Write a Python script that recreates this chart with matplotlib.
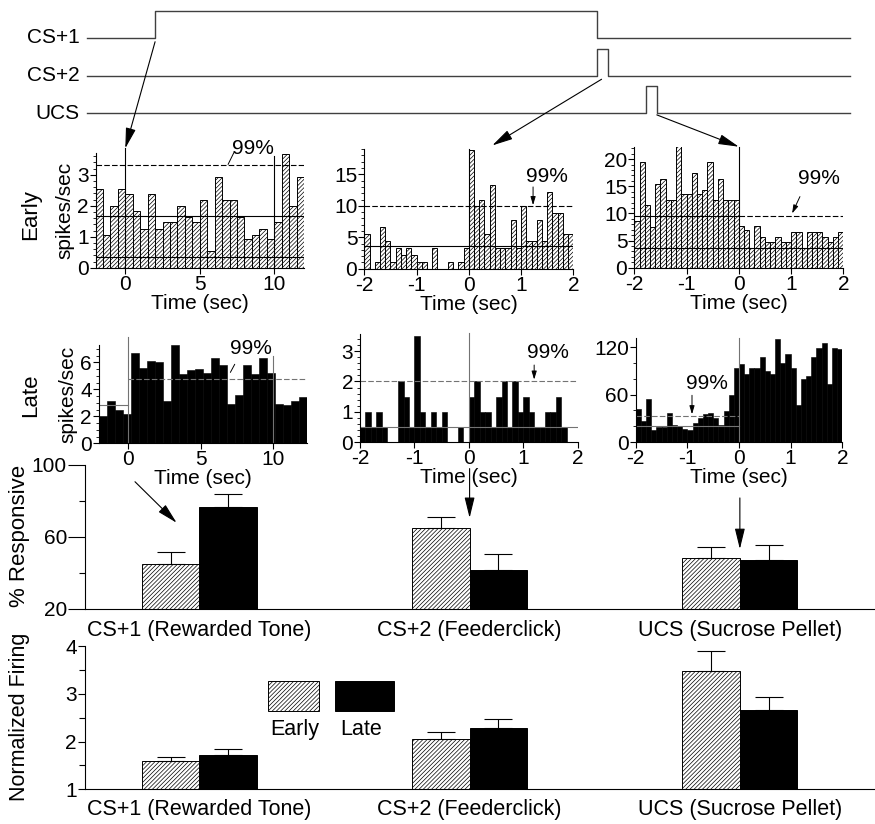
import matplotlib.pyplot as plt
import numpy as np
from matplotlib.patches import ConnectionPatch, Rectangle
from matplotlib.ticker import MultipleLocator, FixedLocator

plt.rcParams['font.family'] = ['Liberation Sans', 'DejaVu Sans']
plt.rcParams['hatch.linewidth'] = 0.5
plt.rcParams['axes.linewidth'] = 0.8
plt.rcParams['axes.unicode_minus'] = False

W, H = 875, 824

# stimulus timeline (sec, relative to CS+1 onset)
events = ['CS+1', 'CS+2', 'UCS']
onsets = [0.0, 10.0, 11.1]
offsets = [10.0, 10.25, 11.35]

# peri-event histograms (spikes/sec)
early_cs1 = [2.55, 1.07, 2.0, 2.55, 2.39, 1.82, 1.26, 2.39, 1.26, 1.46, 1.46, 2.0, 1.64, 1.46,
             2.2, 0.54, 2.93, 2.2, 2.2, 1.64, 0.91, 1.07, 1.26, 0.91, 1.46, 3.68, 2.0, 2.93]
early_cs2 = [5.5, 0, 1.1, 6.6, 4.4, 1.1, 3.3, 2.2, 3.3, 2.2, 1.1, 1.1, 0, 3.3, 0, 0, 1.1, 0, 1.1, 3.3,
             18.9, 10.0, 11.0, 5.5, 13.3, 3.3, 3.3, 3.3, 7.7, 3.3, 10.0, 4.4, 4.4, 7.7, 4.4, 12.2,
             8.8, 8.8, 5.5, 5.5]
early_ucs = [8.6, 19.4, 11.5, 7.5, 15.5, 16.4, 12.5, 12.5, 22.4, 13.6, 13.6, 17.5, 13.6, 14.4, 19.4,
             12.5, 16.4, 12.5, 12.5, 12.5, 7.7, 6.9, 3.7, 7.7, 5.6, 4.7, 4.7, 5.6, 4.7, 4.7, 6.6, 6.6,
             3.7, 6.6, 6.6, 6.6, 5.6, 4.7, 5.6, 6.6]
late_cs1 = [2.0, 3.1, 2.5, 2.2, 6.7, 5.6, 6.1, 6.0, 3.1, 7.3, 5.1, 5.4, 5.5, 5.2, 6.3, 5.8, 2.9,
            3.6, 5.8, 5.1, 6.3, 5.2, 2.9, 2.8, 3.1, 3.4]
late_cs2 = [0.5, 1.0, 0.5, 1.0, 0.5, 0, 0, 2.0, 1.5, 0.5, 3.5, 1.0, 0.5, 1.0, 0.5, 1.0, 0, 0, 0.5, 0,
            1.5, 2.0, 1.0, 1.0, 0.5, 1.5, 2.0, 0.5, 2.0, 1.0, 1.5, 1.0, 0.5, 0.5, 1.0, 1.0, 1.5, 0.5,
            0, 0]
late_ucs = [42, 27, 54, 15, 19, 19, 37, 22, 20, 16, 15, 24, 30, 36, 37, 30, 21, 39, 60, 94, 99, 86,
            94, 94, 107, 90, 86, 130, 100, 111, 93, 47, 80, 83, 107, 119, 125, 73, 119, 118]

# baseline / 99% confidence levels
early_base = [1.66, 3.6, 3.7]
early_low = [0.33, None, None]
early_sig = [3.3, 10.0, 9.5]
late_base = [2.8, 0.5, 20]
late_sig = [4.74, 2.0, 33]

# population summary
categories = ['CS+1 (Rewarded Tone)', 'CS+2 (Feederclick)', 'UCS (Sucrose Pellet)']
resp_early = [45.2, 64.8, 48.1]
resp_early_err = [6.3, 6.2, 6.2]
resp_late = [76.5, 41.7, 47.0]
resp_late_err = [7.2, 8.7, 8.4]
norm_early = [1.60, 2.06, 3.48]
norm_early_err = [0.08, 0.13, 0.42]
norm_late = [1.72, 2.29, 2.66]
norm_late_err = [0.13, 0.19, 0.27]

HATCH = '////////'

fig = plt.figure(figsize=(W / 100, H / 100), dpi=100)


def px_axes(x0, x1, ytop, ybot):
    ax = fig.add_axes([x0 / W, 1 - ybot / H, (x1 - x0) / W, (ybot - ytop) / H])
    ax.patch.set_visible(False)
    return ax


def psth(ax, start, width, counts, early):
    left = start + width * np.arange(len(counts))
    if early:
        ax.bar(left, counts, width, align='edge', color='white', edgecolor='black',
               hatch=HATCH, linewidth=0.7)
    else:
        ax.bar(left, counts, width, align='edge', color='black', edgecolor='black', linewidth=0.4)
    for s in ['top', 'right']:
        ax.spines[s].set_visible(False)
    ax.tick_params(labelsize=15, direction='out', length=4, width=0.8, pad=1)
    ax.tick_params(which='minor', length=2, width=0.6)
    ax.set_xlabel('Time (sec)', fontsize=15, labelpad=0)


def sig_label(ax, text_xy, start, tip, head=True):
    ax.text(*text_xy, '99%', fontsize=15, ha='center', va='center')
    style = '-|>,head_length=0.5,head_width=0.15' if head else '-'
    ax.annotate('', xy=tip, xytext=start, annotation_clip=False,
                arrowprops=dict(arrowstyle=style, lw=0.7, color='black', shrinkA=0, shrinkB=0))


# ---- timeline ----
axt = px_axes(87, 850, 0, 130)
t0, t1 = -1.54, 15.72
axt.set_xlim(t0, t1)
axt.set_ylim(2.453, -1.013)
axt.axis('off')
for r, (name, on, off) in enumerate(zip(events, onsets, offsets)):
    axt.plot([t0, on, on, off, off, t1], [r, r, r - 0.71, r - 0.71, r, r], color='0.25', lw=1.0,
             clip_on=False)
    axt.text(-1.7, r, name, ha='right', va='center', fontsize=15)

# ---- early row ----
ax1 = px_axes(95.5, 304, 153, 267.7)
psth(ax1, -2, 0.5, early_cs1, True)
ax1.set_xlim(-2, 12)
ax1.set_ylim(0, 3.7)
ax1.set_xticks([0, 5, 10])
ax1.set_yticks([0, 1, 2, 3])
ax1.yaxis.set_minor_locator(MultipleLocator(0.2))
ax1.axhline(early_base[0], color='black', lw=0.8)
ax1.axhline(early_low[0], color='black', lw=0.8)
ax1.axhline(early_sig[0], color='black', lw=0.8, ls=(0, (5, 2)))
ax1.plot([0, 0], [0, 3.85], color='black', lw=0.8, clip_on=False)
ax1.plot([10, 10], [0, 3.6], color='black', lw=0.8, clip_on=False)
sig_label(ax1, (8.55, 3.83), (6.9, 3.33), (7.3, 3.72), head=False)
ax1.set_ylabel('spikes/sec', fontsize=15, labelpad=2)

ax2 = px_axes(364.3, 573.3, 149.2, 268.7)
psth(ax2, -2, 0.1, early_cs2, True)
ax2.set_xlim(-2, 2)
ax2.set_ylim(0, 19)
ax2.set_xticks([-2, -1, 0, 1, 2])
ax2.set_yticks([0, 5, 10, 15])
ax2.yaxis.set_minor_locator(MultipleLocator(1))
ax2.axhline(early_base[1], color='black', lw=0.8)
ax2.axhline(early_sig[1], color='black', lw=0.8, ls=(0, (5, 2)))
ax2.plot([0, 0], [0, 19], color='black', lw=0.8, clip_on=False)
sig_label(ax2, (1.49, 14.6), (1.23, 13.0), (1.23, 10.1))

ax3 = px_axes(634.3, 843.3, 146.7, 267.7)
psth(ax3, -2, 0.1, early_ucs, True)
ax3.set_xlim(-2, 2)
ax3.set_ylim(0, 22.3)
ax3.set_xticks([-2, -1, 0, 1, 2])
ax3.set_yticks([0, 5, 10, 15, 20])
ax3.yaxis.set_minor_locator(MultipleLocator(1))
ax3.axhline(early_base[2], color='black', lw=0.8)
ax3.plot([-2, 0], [early_sig[2]] * 2, color='black', lw=0.8)
ax3.plot([0, 2], [early_sig[2]] * 2, color='black', lw=0.8, ls=(0, (5, 2)))
ax3.plot([0, 0], [0, 22.3], color='black', lw=0.8, clip_on=False)
sig_label(ax3, (1.54, 16.5), (1.17, 13.1), (1.02, 10.0))

fig.text(31 / W, 1 - 215 / H, 'Early', rotation=90, ha='center', va='center', fontsize=16)

# ---- late row ----
gray = '0.45'
ax4 = px_axes(98.6, 306.8, 344.7, 443.3)
psth(ax4, -2, 0.55, late_cs1, False)
ax4.set_xlim(-2, 12.3)
ax4.set_ylim(0, 7.3)
ax4.set_xticks([0, 5, 10])
ax4.set_yticks([0, 2, 4, 6])
ax4.yaxis.set_minor_locator(MultipleLocator(0.5))
ax4.plot([-2, 0], [late_base[0]] * 2, color=gray, lw=0.8)
ax4.plot([0, 12.3], [late_sig[0]] * 2, color=gray, lw=0.8, ls=(0, (5, 2)))
ax4.plot([0, 0], [0, 7.9], color=gray, lw=0.8, clip_on=False)
ax4.plot([10, 10], [0, 6.5], color=gray, lw=0.8, clip_on=False)
sig_label(ax4, (8.45, 7.05), (7.05, 5.25), (7.35, 5.85), head=False)
ax4.set_ylabel('spikes/sec', fontsize=15, labelpad=2)

ax5 = px_axes(360, 577.7, 334.3, 442.3)
psth(ax5, -2, 0.1, late_cs2, False)
ax5.set_xlim(-2, 2)
ax5.set_ylim(0, 3.55)
ax5.set_xticks([-2, -1, 0, 1, 2])
ax5.set_yticks([0, 1, 2, 3])
ax5.yaxis.set_minor_locator(MultipleLocator(0.2))
ax5.axhline(late_base[1], color=gray, lw=0.8)
ax5.axhline(late_sig[1], color=gray, lw=0.8, ls=(0, (5, 2)))
ax5.plot([0, 0], [0, 3.6], color=gray, lw=0.8, clip_on=False)
sig_label(ax5, (1.46, 2.94), (1.2, 2.54), (1.2, 2.06))

ax6 = px_axes(635.7, 842.3, 338.3, 442)
psth(ax6, -2, 0.1, late_ucs, False)
ax6.set_xlim(-2, 2)
ax6.set_ylim(0, 131)
ax6.set_xticks([-2, -1, 0, 1, 2])
ax6.set_yticks([0, 60, 120])
ax6.yaxis.set_minor_locator(MultipleLocator(20))
ax6.plot([-2, 0], [late_base[2]] * 2, color=gray, lw=0.8)
ax6.plot([-2, 0], [late_sig[2]] * 2, color=gray, lw=0.8, ls=(0, (5, 2)))
ax6.plot([0, 0], [0, 131], color=gray, lw=0.8, clip_on=False)
sig_label(ax6, (-0.62, 74), (-0.91, 59), (-0.91, 35))

fig.text(31 / W, 1 - 395 / H, 'Late', rotation=90, ha='center', va='center', fontsize=16)

# ---- arrows from timeline to the histograms ----
arrow_kw = dict(arrowstyle='-|>,head_length=0.9,head_width=0.22', lw=0.8, color='black',
                mutation_scale=14)
fig.add_artist(ConnectionPatch((onsets[0], 0.1), (0, 3.85), coordsA=axt.transData,
                               coordsB=ax1.transData, **arrow_kw))
fig.add_artist(ConnectionPatch((onsets[1] + 0.1, 1.1), (0.45, 19.6), coordsA=axt.transData,
                               coordsB=ax2.transData, **arrow_kw))
fig.add_artist(ConnectionPatch((offsets[2], 2.05), (0, 22.3), coordsA=axt.transData,
                               coordsB=ax3.transData, **arrow_kw))

# ---- summary bar charts ----
x = np.arange(len(categories))
bw = 0.213


def summary(ax, early, early_err, late, late_err):
    ax.bar(x - bw / 2, early, bw, color='white', edgecolor='black', hatch=HATCH, linewidth=0.7)
    ax.bar(x + bw / 2, late, bw, color='black', edgecolor='black', linewidth=0.7)
    ax.errorbar(x - bw / 2, early, yerr=[np.zeros(3), early_err], fmt='none', ecolor='black',
                elinewidth=0.8, capsize=10, capthick=0.8)
    ax.errorbar(x + bw / 2, late, yerr=[np.zeros(3), late_err], fmt='none', ecolor='black',
                elinewidth=0.8, capsize=10, capthick=0.8)
    for s in ['top', 'right']:
        ax.spines[s].set_visible(False)
    ax.set_xlim(-0.423, 2.50)
    ax.set_xticks(x)
    ax.set_xticklabels(categories, fontsize=15.5)
    ax.tick_params(axis='x', length=0)
    ax.tick_params(axis='y', labelsize=15, direction='out', width=0.8, pad=1)


axr = px_axes(85, 875, 465, 609)
summary(axr, resp_early, resp_early_err, resp_late, resp_late_err)
axr.set_ylim(20, 100)
axr.set_yticks([20, 60, 100])
axr.yaxis.set_minor_locator(FixedLocator([40, 80]))
axr.tick_params(axis='y', which='major', length=12)
axr.tick_params(axis='y', which='minor', length=4, width=0.8)
axr.tick_params(axis='x', pad=8)
fig.text(20 / W, 1 - 536 / H, '% Responsive', rotation=90, ha='center', va='center', fontsize=16)

# arrows pointing at the population bars
pointers = [((-0.238, 90.7), (-0.084, 67.9)), ((1.0, 98.0), (1.0, 70.6)), ((2.0, 81.7), (2.0, 53.3))]
for start, tip in pointers:
    axr.annotate('', xy=tip, xytext=start, annotation_clip=False,
                 arrowprops=dict(arrowstyle='-|>,head_length=0.9,head_width=0.22', lw=0.8,
                                 color='black', mutation_scale=14, shrinkA=0, shrinkB=0))

axn = px_axes(85, 875, 646, 789.3)
summary(axn, norm_early, norm_early_err, norm_late, norm_late_err)
axn.set_ylim(1, 4)
axn.set_yticks([1, 2, 3, 4])
axn.yaxis.set_minor_locator(FixedLocator([1.5, 2.5, 3.5]))
axn.tick_params(axis='y', which='major', length=5)
axn.tick_params(axis='y', which='minor', length=4, width=0.8)
axn.tick_params(axis='x', pad=7)
fig.text(20 / W, 1 - 717 / H, 'Normalized Firing', rotation=90, ha='center', va='center',
         fontsize=15.5)

# legend
axn.add_patch(Rectangle((0.2316, 0.546), 0.0646, 0.209, transform=axn.transAxes, facecolor='white',
                        edgecolor='black', hatch=HATCH, lw=0.7))
axn.add_patch(Rectangle((0.3165, 0.546), 0.0747, 0.209, transform=axn.transAxes, facecolor='black',
                        edgecolor='black', lw=0.7))
axn.text(0.266, 0.414, 'Early', transform=axn.transAxes, ha='center', va='center', fontsize=15.5)
axn.text(0.349, 0.414, 'Late', transform=axn.transAxes, ha='center', va='center', fontsize=15.5)

fig.savefig('out.png', dpi=100)
